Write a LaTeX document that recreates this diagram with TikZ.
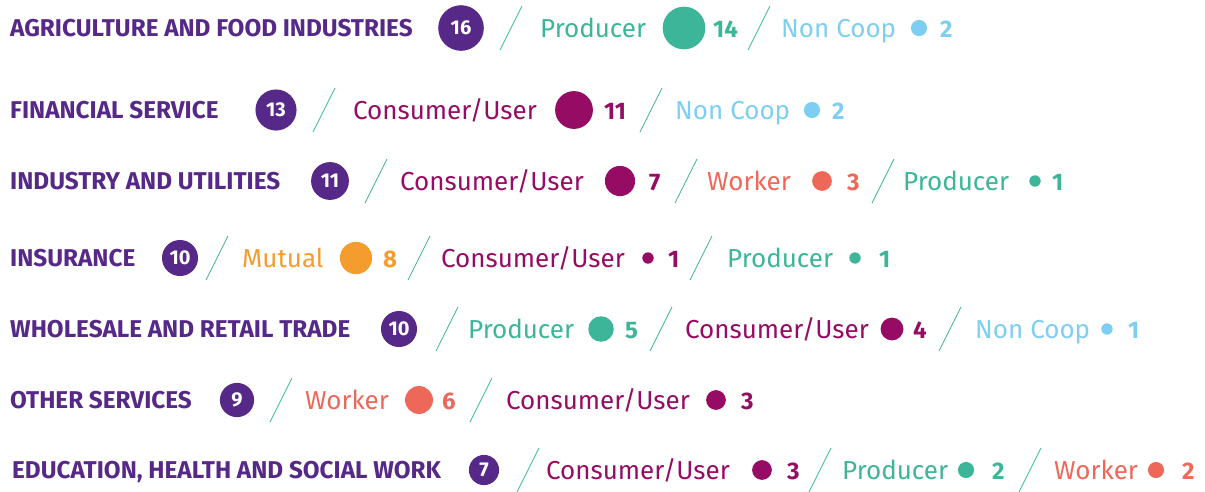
\documentclass[tikz,border=0pt]{standalone}
\usepackage{fontspec}
\setmainfont{Fira Sans}
\definecolor{coopPurple}{RGB}{86,40,136}
\definecolor{producerTeal}{RGB}{60,181,152}
\definecolor{consumerPlum}{RGB}{150,12,100}
\definecolor{noncoopSky}{RGB}{126,206,242}
\definecolor{workerSalmon}{RGB}{238,104,90}
\definecolor{mutualOrange}{RGB}{244,157,46}

\tikzset{
  sector/.style={anchor=base west, inner sep=0pt, text=coopPurple, font=\fontsize{24.3}{26}\selectfont\bfseries},
  total/.style={circle, inner sep=0pt, fill=coopPurple, text=white, minimum size={11.4*sqrt(#1)}, font=\fontsize{20}{22}\selectfont\bfseries},
  kind/.style={anchor=base west, inner sep=0pt, text=#1, font=\fontsize{26}{28}\selectfont},
  blob/.style={circle, inner sep=0pt, fill=#1},
  count/.style={anchor=base west, inner sep=0pt, text=#1, font=\fontsize{24}{26}\selectfont\bfseries},
  slash/.style={producerTeal, line width=0.8pt}
}

% one row of member types: #1 = prefix, #2 = y, #3 = list
\newcommand\kindrow[3]{%
  \foreach \s/\l/\lab/\c/\d/\n/\m [count=\i] in {#3} {
    \draw[slash] (\s-11,#2+22) -- (\s+11,#2-22);
    \node[kind=\c] (#1k\i) at (\l,#2+9.5) {\lab};
    \node[blob=\c, minimum size={11.4*sqrt(\n)}] (#1d\i) at (\d,#2) {};
    \node[count=\c] (#1n\i) at (\m,#2+9) {\n};
  }}

\begin{document}
\begin{tikzpicture}[x=1pt,y=-1pt]
\useasboundingbox (0,0) rectangle (1205,491);

% Agriculture
\node[sector] (agri) at (10,36.5) {AGRICULTURE AND FOOD INDUSTRIES};
\node[total=16] (agriN) at (461,28) {16};
\kindrow{agri}{28}{511/540/Producer/producerTeal/684/14/713, 759/781/Non Coop/noncoopSky/919/2/940}

% Financial
\node[sector] (fin) at (10,118.5) {FINANCIAL SERVICE};
\node[total=13] (finN) at (276,110) {13};
\kindrow{fin}{110}{324/353/{Consumer/User}/consumerPlum/574/11/604, 651/675/Non Coop/noncoopSky/812/2/832}

% Industry
\node[sector] (ind) at (10,189.5) {INDUSTRY AND UTILITIES};
\node[total=11] (indN) at (330,181) {11};
\kindrow{ind}{181}{376/400/{Consumer/User}/consumerPlum/620/7/649, 686/707/Worker/workerSalmon/822/3/847, 883/903/Producer/producerTeal/1035/1/1052}

% Insurance
\node[sector] (ins) at (10,266.5) {INSURANCE};
\node[total=10] (insN) at (180,258) {10};
\kindrow{ins}{258}{217/242/Mutual/mutualOrange/356/8/383, 419/441/{Consumer/User}/consumerPlum/648/1/668, 701/727/Producer/producerTeal/855/1/879}

% Wholesale
\node[sector] (trade) at (10,337.5) {WHOLESALE AND RETAIL TRADE};
\node[total=10] (tradeN) at (399,329) {10};
\kindrow{trade}{329}{447/468/Producer/producerTeal/601/5/625, 661/685/{Consumer/User}/consumerPlum/892/4/913, 950/975/Non Coop/noncoopSky/1107/1/1128}

% Other services
\node[sector] (oth) at (10,408.5) {OTHER SERVICES};
\node[total=9] (othN) at (237,400) {9};
\kindrow{oth}{400}{281/305/Worker/workerSalmon/419/6/442, 481/506/{Consumer/User}/consumerPlum/716/3/741}

% Education
\node[sector] (edu) at (12,478.5) {EDUCATION, HEALTH AND SOCIAL WORK};
\node[total=7] (eduN) at (484,470) {7};
\kindrow{edu}{470}{528/546/{Consumer/User}/consumerPlum/762/3/787, 820/842/Producer/producerTeal/966/2/992, 1030/1054/Worker/workerSalmon/1156/2/1182}
\end{tikzpicture}
\end{document}
